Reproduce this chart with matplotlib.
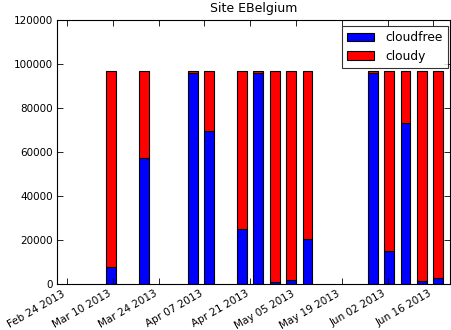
import matplotlib
matplotlib.use('Agg')
import matplotlib.pyplot as plt
import matplotlib.dates as mdates
import numpy as np
import pandas as pd

# acquisition dates and pixel counts per scene
dates = ['2013-03-08', '2013-03-18', '2013-04-02', '2013-04-07', '2013-04-17',
         '2013-04-22', '2013-04-27', '2013-05-02', '2013-05-07', '2013-05-27',
         '2013-06-01', '2013-06-06', '2013-06-11', '2013-06-16']
cloudfree = [8000, 57500, 96000, 69500, 25200, 95800, 1200, 1800, 20800,
             95800, 15400, 73500, 1400, 2800]
total = [97000] * len(dates)
cloudy = [t - c for t, c in zip(total, cloudfree)]

tick_dates = ['2013-02-24', '2013-03-10', '2013-03-24', '2013-04-07', '2013-04-21',
              '2013-05-05', '2013-05-19', '2013-06-02', '2013-06-16']

plt.rcParams['font.family'] = 'DejaVu Sans'
plt.rcParams['xtick.direction'] = 'in'
plt.rcParams['ytick.direction'] = 'in'
plt.rcParams['xtick.top'] = True
plt.rcParams['ytick.right'] = True

fig = plt.figure(figsize=(4.51, 3.30), dpi=100)
ax = fig.add_axes([0.127, 0.138, 0.870, 0.801])

x = mdates.date2num(pd.to_datetime(dates))
ax.bar(x, cloudfree, width=3, align='edge', color='b', edgecolor='k',
       linewidth=0.8, label='cloudfree')
ax.bar(x, cloudy, width=3, bottom=cloudfree, align='edge', color='r',
       edgecolor='k', linewidth=0.8, label='cloudy')

ax.set_xlim(mdates.date2num(pd.Timestamp('2013-02-21')),
            mdates.date2num(pd.Timestamp('2013-06-21')))
ax.set_ylim(0, 120000)
ax.set_xticks(mdates.date2num(pd.to_datetime(tick_dates)))
ax.xaxis.set_major_formatter(mdates.DateFormatter('%b %d %Y'))
for lbl in ax.get_xticklabels():
    lbl.set_rotation(30)
    lbl.set_ha('right')
ax.tick_params(labelsize=7.5, length=4, width=0.6, pad=3)
for s in ax.spines.values():
    s.set_linewidth(0.8)

ax.set_title('Site EBelgium', fontsize=9)
leg = ax.legend(loc='upper right', fontsize=8.8, fancybox=False,
                handlelength=2.2, handletextpad=0.9, borderaxespad=0,
                borderpad=0.42, labelspacing=0.45,
                bbox_to_anchor=(447.5 / 451, 1 - 26 / 330),
                bbox_transform=fig.transFigure)
leg.get_frame().set_edgecolor('k')
leg.get_frame().set_linewidth(0.8)

fig.savefig('out.png', dpi=100)
